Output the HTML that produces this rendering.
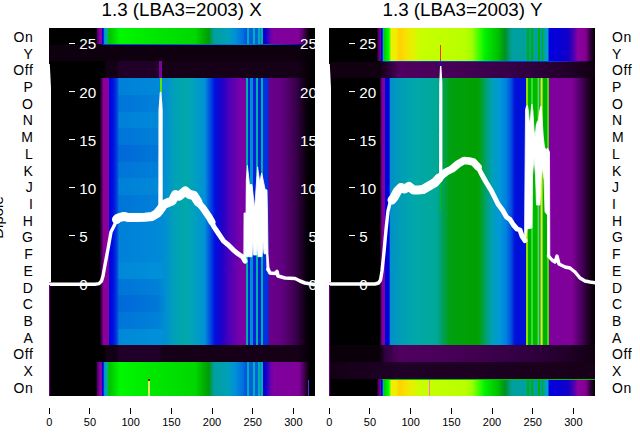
<!DOCTYPE html><html><head><meta charset="utf-8"><style>
html,body{margin:0;padding:0;background:#fff;width:640px;height:440px;overflow:hidden;font-family:"Liberation Sans", sans-serif;}
.p{position:absolute;top:28px;height:367.6px;width:266px;overflow:hidden;background:#000}
.t{position:absolute;white-space:nowrap;line-height:1}
</style></head><body>
<div class="t" style="left:101.5px;top:1.2px;font-size:18.8px;color:#000">1.3 (LBA3=2003) X</div>
<div class="t" style="left:382.5px;top:1.2px;font-size:18.8px;color:#000">1.3 (LBA3=2003) Y</div>
<div class="p" style="left:49px">
<div style="position:absolute;left:0;top:0.00px;width:266px;height:16.71px;background:linear-gradient(to right,#000 0.0px,#000 47.0px,#500068 48.5px,#8a00a0 51.0px,#8a00a0 52.8px,#0000e0 53.3px,#0000e0 54.3px,#0090d0 55.0px,#00b0a0 58.0px,#00c000 60.0px,#00f800 71.0px,#00e800 101.0px,#00d800 146.0px,#00b000 155.0px,#009a10 160.0px,#00a0a0 165.0px,#00a0b8 179.0px,#0090d8 186.0px,#0070e0 194.0px,#0050e0 197.5px,#00b0b0 198.0px,#00b0b0 199.5px,#0060e0 200.0px,#0060e0 203.5px,#00b0b0 204.0px,#00b0b0 205.5px,#0060e0 206.0px,#0060e0 208.5px,#00b0b0 209.0px,#00b0b0 210.5px,#0060e0 211.0px,#00b0b0 212.0px,#00b0b0 213.5px,#0000d0 214.0px,#2000c8 218.0px,#6000b0 221.0px,#8000a0 225.0px,#800098 250.0px,#500068 254.0px,#200020 258.0px,#000 261.0px,#000 266.0px)"></div>
<div style="position:absolute;left:0;top:16.71px;width:266px;height:16.71px;background:linear-gradient(to right,#0e000e 0.0px,#0e000e 246.0px,#060006 261.0px,#040004 266.0px)"></div>
<div style="position:absolute;left:0;top:33.42px;width:266px;height:16.71px;background:linear-gradient(to right,#000 0.0px,#000 55.0px,#120014 57.0px,#120014 68.0px,#200028 69.0px,#200028 110.0px,#160018 114.0px,#160018 249.0px,#040004 261.0px,#000 266.0px)"></div>
<div style="position:absolute;left:0;top:50.13px;width:266px;height:16.71px;background:linear-gradient(to right,#4a0060 0.0px,#000 1.0px,#000 50.5px,#400050 52.5px,#8a0098 54.5px,#8a0098 59.5px,#0000e0 60.5px,#0010e0 64.0px,#0040e0 68.0px,#0080d8 70.0px,#0088d8 109.0px,#0090d0 117.0px,#00a0b8 125.0px,#00a8a8 137.0px,#00a0c0 146.0px,#0090d8 156.0px,#0050e0 161.0px,#0010e0 166.0px,#2000c8 173.0px,#5000b8 181.0px,#7800a8 191.0px,#7a00a0 197.0px,#00b0a0 197.2px,#00b0a0 198.5px,#0020e0 198.8px,#0020e0 201.0px,#0090d0 201.5px,#0090d0 204.0px,#0020e0 204.3px,#0020e0 206.8px,#00b0a0 207.0px,#00b0a0 208.5px,#0020e0 208.8px,#0020e0 211.8px,#00b0a0 212.0px,#00b0a0 213.5px,#0030e0 213.8px,#0030e0 219.3px,#6a0088 219.8px,#640084 231.0px,#4c0064 241.0px,#300040 249.0px,#100014 256.0px,#000 260.0px,#000 266.0px)"></div>
<div style="position:absolute;left:0;top:66.84px;width:266px;height:16.71px;background:linear-gradient(to right,#4a0060 0.0px,#000 1.0px,#000 50.5px,#400050 52.5px,#8a0098 54.5px,#8a0098 59.5px,#0000e0 60.5px,#0010e0 64.0px,#0040e0 68.0px,#0074d8 70.0px,#0080d8 109.0px,#0090d0 117.0px,#00a0b8 125.0px,#00a8a8 137.0px,#00a0c0 146.0px,#0090d8 156.0px,#0050e0 161.0px,#0010e0 166.0px,#2000c8 173.0px,#5000b8 181.0px,#7800a8 191.0px,#7a00a0 197.0px,#00b0a0 197.2px,#00b0a0 198.5px,#0020e0 198.8px,#0020e0 201.0px,#0090d0 201.5px,#0090d0 204.0px,#0020e0 204.3px,#0020e0 206.8px,#00b0a0 207.0px,#00b0a0 208.5px,#0020e0 208.8px,#0020e0 211.8px,#00b0a0 212.0px,#00b0a0 213.5px,#0030e0 213.8px,#0030e0 219.3px,#6a0088 219.8px,#640084 231.0px,#4c0064 241.0px,#300040 249.0px,#100014 256.0px,#000 260.0px,#000 266.0px)"></div>
<div style="position:absolute;left:0;top:83.55px;width:266px;height:16.71px;background:linear-gradient(to right,#4a0060 0.0px,#000 1.0px,#000 50.5px,#400050 52.5px,#8a0098 54.5px,#8a0098 59.5px,#0000e0 60.5px,#0010e0 64.0px,#0040e0 68.0px,#0080d8 70.0px,#0088d8 109.0px,#0090d0 117.0px,#00a0b8 125.0px,#00a8a8 137.0px,#00a0c0 146.0px,#0090d8 156.0px,#0050e0 161.0px,#0010e0 166.0px,#2000c8 173.0px,#5000b8 181.0px,#7800a8 191.0px,#7a00a0 197.0px,#00b0a0 197.2px,#00b0a0 198.5px,#0020e0 198.8px,#0020e0 201.0px,#0090d0 201.5px,#0090d0 204.0px,#0020e0 204.3px,#0020e0 206.8px,#00b0a0 207.0px,#00b0a0 208.5px,#0020e0 208.8px,#0020e0 211.8px,#00b0a0 212.0px,#00b0a0 213.5px,#0030e0 213.8px,#0030e0 219.3px,#6a0088 219.8px,#640084 231.0px,#4c0064 241.0px,#300040 249.0px,#100014 256.0px,#000 260.0px,#000 266.0px)"></div>
<div style="position:absolute;left:0;top:100.26px;width:266px;height:16.71px;background:linear-gradient(to right,#4a0060 0.0px,#000 1.0px,#000 50.5px,#400050 52.5px,#8a0098 54.5px,#8a0098 59.5px,#0000e0 60.5px,#0010e0 64.0px,#0040e0 68.0px,#0074d8 70.0px,#0080d8 109.0px,#0090d0 117.0px,#00a0b8 125.0px,#00a8a8 137.0px,#00a0c0 146.0px,#0090d8 156.0px,#0050e0 161.0px,#0010e0 166.0px,#2000c8 173.0px,#5000b8 181.0px,#7800a8 191.0px,#7a00a0 197.0px,#00b0a0 197.2px,#00b0a0 198.5px,#0020e0 198.8px,#0020e0 201.0px,#0090d0 201.5px,#0090d0 204.0px,#0020e0 204.3px,#0020e0 206.8px,#00b0a0 207.0px,#00b0a0 208.5px,#0020e0 208.8px,#0020e0 211.8px,#00b0a0 212.0px,#00b0a0 213.5px,#0030e0 213.8px,#0030e0 219.3px,#6a0088 219.8px,#640084 231.0px,#4c0064 241.0px,#300040 249.0px,#100014 256.0px,#000 260.0px,#000 266.0px)"></div>
<div style="position:absolute;left:0;top:116.97px;width:266px;height:16.71px;background:linear-gradient(to right,#4a0060 0.0px,#000 1.0px,#000 50.5px,#400050 52.5px,#8a0098 54.5px,#8a0098 59.5px,#0000e0 60.5px,#0010e0 64.0px,#0040e0 68.0px,#0068d8 70.0px,#0078d8 109.0px,#0090d0 117.0px,#00a0b8 125.0px,#00a8a8 137.0px,#00a0c0 146.0px,#0090d8 156.0px,#0050e0 161.0px,#0010e0 166.0px,#2000c8 173.0px,#5000b8 181.0px,#7800a8 191.0px,#7a00a0 197.0px,#00b0a0 197.2px,#00b0a0 198.5px,#0020e0 198.8px,#0020e0 201.0px,#0090d0 201.5px,#0090d0 204.0px,#0020e0 204.3px,#0020e0 206.8px,#00b0a0 207.0px,#00b0a0 208.5px,#0020e0 208.8px,#0020e0 211.8px,#00b0a0 212.0px,#00b0a0 213.5px,#0030e0 213.8px,#0030e0 219.3px,#6a0088 219.8px,#640084 231.0px,#4c0064 241.0px,#300040 249.0px,#100014 256.0px,#000 260.0px,#000 266.0px)"></div>
<div style="position:absolute;left:0;top:133.68px;width:266px;height:16.71px;background:linear-gradient(to right,#4a0060 0.0px,#000 1.0px,#000 50.5px,#400050 52.5px,#8a0098 54.5px,#8a0098 59.5px,#0000e0 60.5px,#0010e0 64.0px,#0040e0 68.0px,#0074d8 70.0px,#0080d8 109.0px,#0090d0 117.0px,#00a0b8 125.0px,#00a8a8 137.0px,#00a0c0 146.0px,#0090d8 156.0px,#0050e0 161.0px,#0010e0 166.0px,#2000c8 173.0px,#5000b8 181.0px,#7800a8 191.0px,#7a00a0 197.0px,#00b0a0 197.2px,#00b0a0 198.5px,#0020e0 198.8px,#0020e0 201.0px,#0090d0 201.5px,#0090d0 204.0px,#0020e0 204.3px,#0020e0 206.8px,#00b0a0 207.0px,#00b0a0 208.5px,#0020e0 208.8px,#0020e0 211.8px,#00b0a0 212.0px,#00b0a0 213.5px,#0030e0 213.8px,#0030e0 219.3px,#6a0088 219.8px,#640084 231.0px,#4c0064 241.0px,#300040 249.0px,#100014 256.0px,#000 260.0px,#000 266.0px)"></div>
<div style="position:absolute;left:0;top:150.39px;width:266px;height:16.71px;background:linear-gradient(to right,#4a0060 0.0px,#000 1.0px,#000 50.5px,#400050 52.5px,#8a0098 54.5px,#8a0098 59.5px,#0000e0 60.5px,#0010e0 64.0px,#0040e0 68.0px,#0080d8 70.0px,#0088d8 109.0px,#0090d0 117.0px,#00a0b8 125.0px,#00a8a8 137.0px,#00a0c0 146.0px,#0090d8 156.0px,#0050e0 161.0px,#0010e0 166.0px,#2000c8 173.0px,#5000b8 181.0px,#7800a8 191.0px,#7a00a0 197.0px,#00b0a0 197.2px,#00b0a0 198.5px,#0020e0 198.8px,#0020e0 201.0px,#0090d0 201.5px,#0090d0 204.0px,#0020e0 204.3px,#0020e0 206.8px,#00b0a0 207.0px,#00b0a0 208.5px,#0020e0 208.8px,#0020e0 211.8px,#00b0a0 212.0px,#00b0a0 213.5px,#0030e0 213.8px,#0030e0 219.3px,#6a0088 219.8px,#640084 231.0px,#4c0064 241.0px,#300040 249.0px,#100014 256.0px,#000 260.0px,#000 266.0px)"></div>
<div style="position:absolute;left:0;top:167.10px;width:266px;height:16.71px;background:linear-gradient(to right,#4a0060 0.0px,#000 1.0px,#000 50.5px,#400050 52.5px,#8a0098 54.5px,#8a0098 59.5px,#0000e0 60.5px,#0010e0 64.0px,#0040e0 68.0px,#0074d8 70.0px,#0080d8 109.0px,#0090d0 117.0px,#00a0b8 125.0px,#00a8a8 137.0px,#00a0c0 146.0px,#0090d8 156.0px,#0050e0 161.0px,#0010e0 166.0px,#2000c8 173.0px,#5000b8 181.0px,#7800a8 191.0px,#7a00a0 197.0px,#00b0a0 197.2px,#00b0a0 198.5px,#0020e0 198.8px,#0020e0 201.0px,#0090d0 201.5px,#0090d0 204.0px,#0020e0 204.3px,#0020e0 206.8px,#00b0a0 207.0px,#00b0a0 208.5px,#0020e0 208.8px,#0020e0 211.8px,#00b0a0 212.0px,#00b0a0 213.5px,#0030e0 213.8px,#0030e0 219.3px,#6a0088 219.8px,#640084 231.0px,#4c0064 241.0px,#300040 249.0px,#100014 256.0px,#000 260.0px,#000 266.0px)"></div>
<div style="position:absolute;left:0;top:183.81px;width:266px;height:16.71px;background:linear-gradient(to right,#4a0060 0.0px,#000 1.0px,#000 50.5px,#400050 52.5px,#8a0098 54.5px,#8a0098 59.5px,#0000e0 60.5px,#0010e0 64.0px,#0040e0 68.0px,#0080d8 70.0px,#0088d8 109.0px,#0090d0 117.0px,#00a0b8 125.0px,#00a8a8 137.0px,#00a0c0 146.0px,#0090d8 156.0px,#0050e0 161.0px,#0010e0 166.0px,#2000c8 173.0px,#5000b8 181.0px,#7800a8 191.0px,#7a00a0 197.0px,#00b0a0 197.2px,#00b0a0 198.5px,#0020e0 198.8px,#0020e0 201.0px,#0090d0 201.5px,#0090d0 204.0px,#0020e0 204.3px,#0020e0 206.8px,#00b0a0 207.0px,#00b0a0 208.5px,#0020e0 208.8px,#0020e0 211.8px,#00b0a0 212.0px,#00b0a0 213.5px,#0030e0 213.8px,#0030e0 219.3px,#6a0088 219.8px,#640084 231.0px,#4c0064 241.0px,#300040 249.0px,#100014 256.0px,#000 260.0px,#000 266.0px)"></div>
<div style="position:absolute;left:0;top:200.52px;width:266px;height:16.71px;background:linear-gradient(to right,#4a0060 0.0px,#000 1.0px,#000 50.5px,#400050 52.5px,#8a0098 54.5px,#8a0098 59.5px,#0000e0 60.5px,#0010e0 64.0px,#0040e0 68.0px,#0080d8 70.0px,#0088d8 109.0px,#0090d0 117.0px,#00a0b8 125.0px,#00a8a8 137.0px,#00a0c0 146.0px,#0090d8 156.0px,#0050e0 161.0px,#0010e0 166.0px,#2000c8 173.0px,#5000b8 181.0px,#7800a8 191.0px,#7a00a0 197.0px,#00b0a0 197.2px,#00b0a0 198.5px,#0020e0 198.8px,#0020e0 201.0px,#0090d0 201.5px,#0090d0 204.0px,#0020e0 204.3px,#0020e0 206.8px,#00b0a0 207.0px,#00b0a0 208.5px,#0020e0 208.8px,#0020e0 211.8px,#00b0a0 212.0px,#00b0a0 213.5px,#0030e0 213.8px,#0030e0 219.3px,#6a0088 219.8px,#640084 231.0px,#4c0064 241.0px,#300040 249.0px,#100014 256.0px,#000 260.0px,#000 266.0px)"></div>
<div style="position:absolute;left:0;top:217.23px;width:266px;height:16.71px;background:linear-gradient(to right,#4a0060 0.0px,#000 1.0px,#000 50.5px,#400050 52.5px,#8a0098 54.5px,#8a0098 59.5px,#0000e0 60.5px,#0010e0 64.0px,#0040e0 68.0px,#0080d8 70.0px,#0088d8 109.0px,#0090d0 117.0px,#00a0b8 125.0px,#00a8a8 137.0px,#00a0c0 146.0px,#0090d8 156.0px,#0050e0 161.0px,#0010e0 166.0px,#2000c8 173.0px,#5000b8 181.0px,#7800a8 191.0px,#7a00a0 197.0px,#00b0a0 197.2px,#00b0a0 198.5px,#0020e0 198.8px,#0020e0 201.0px,#0090d0 201.5px,#0090d0 204.0px,#0020e0 204.3px,#0020e0 206.8px,#00b0a0 207.0px,#00b0a0 208.5px,#0020e0 208.8px,#0020e0 211.8px,#00b0a0 212.0px,#00b0a0 213.5px,#0030e0 213.8px,#0030e0 219.3px,#6a0088 219.8px,#640084 231.0px,#4c0064 241.0px,#300040 249.0px,#100014 256.0px,#000 260.0px,#000 266.0px)"></div>
<div style="position:absolute;left:0;top:233.94px;width:266px;height:16.71px;background:linear-gradient(to right,#4a0060 0.0px,#000 1.0px,#000 50.5px,#400050 52.5px,#8a0098 54.5px,#8a0098 59.5px,#0000e0 60.5px,#0010e0 64.0px,#0040e0 68.0px,#0088d8 70.0px,#0090d8 109.0px,#0090d0 117.0px,#00a0b8 125.0px,#00a8a8 137.0px,#00a0c0 146.0px,#0090d8 156.0px,#0050e0 161.0px,#0010e0 166.0px,#2000c8 173.0px,#5000b8 181.0px,#7800a8 191.0px,#7a00a0 197.0px,#00b0a0 197.2px,#00b0a0 198.5px,#0020e0 198.8px,#0020e0 201.0px,#0090d0 201.5px,#0090d0 204.0px,#0020e0 204.3px,#0020e0 206.8px,#00b0a0 207.0px,#00b0a0 208.5px,#0020e0 208.8px,#0020e0 211.8px,#00b0a0 212.0px,#00b0a0 213.5px,#0030e0 213.8px,#0030e0 219.3px,#6a0088 219.8px,#640084 231.0px,#4c0064 241.0px,#300040 249.0px,#100014 256.0px,#000 260.0px,#000 266.0px)"></div>
<div style="position:absolute;left:0;top:250.65px;width:266px;height:16.71px;background:linear-gradient(to right,#4a0060 0.0px,#000 1.0px,#000 50.5px,#400050 52.5px,#8a0098 54.5px,#8a0098 59.5px,#0000e0 60.5px,#0010e0 64.0px,#0040e0 68.0px,#0074d8 70.0px,#0080d8 109.0px,#0090d0 117.0px,#00a0b8 125.0px,#00a8a8 137.0px,#00a0c0 146.0px,#0090d8 156.0px,#0050e0 161.0px,#0010e0 166.0px,#2000c8 173.0px,#5000b8 181.0px,#7800a8 191.0px,#7a00a0 197.0px,#00b0a0 197.2px,#00b0a0 198.5px,#0020e0 198.8px,#0020e0 201.0px,#0090d0 201.5px,#0090d0 204.0px,#0020e0 204.3px,#0020e0 206.8px,#00b0a0 207.0px,#00b0a0 208.5px,#0020e0 208.8px,#0020e0 211.8px,#00b0a0 212.0px,#00b0a0 213.5px,#0030e0 213.8px,#0030e0 219.3px,#6a0088 219.8px,#640084 231.0px,#4c0064 241.0px,#300040 249.0px,#100014 256.0px,#000 260.0px,#000 266.0px)"></div>
<div style="position:absolute;left:0;top:267.36px;width:266px;height:16.71px;background:linear-gradient(to right,#4a0060 0.0px,#000 1.0px,#000 50.5px,#400050 52.5px,#8a0098 54.5px,#8a0098 59.5px,#0000e0 60.5px,#0010e0 64.0px,#0040e0 68.0px,#0068d8 70.0px,#0078d8 109.0px,#0090d0 117.0px,#00a0b8 125.0px,#00a8a8 137.0px,#00a0c0 146.0px,#0090d8 156.0px,#0050e0 161.0px,#0010e0 166.0px,#2000c8 173.0px,#5000b8 181.0px,#7800a8 191.0px,#7a00a0 197.0px,#00b0a0 197.2px,#00b0a0 198.5px,#0020e0 198.8px,#0020e0 201.0px,#0090d0 201.5px,#0090d0 204.0px,#0020e0 204.3px,#0020e0 206.8px,#00b0a0 207.0px,#00b0a0 208.5px,#0020e0 208.8px,#0020e0 211.8px,#00b0a0 212.0px,#00b0a0 213.5px,#0030e0 213.8px,#0030e0 219.3px,#6a0088 219.8px,#640084 231.0px,#4c0064 241.0px,#300040 249.0px,#100014 256.0px,#000 260.0px,#000 266.0px)"></div>
<div style="position:absolute;left:0;top:284.07px;width:266px;height:16.71px;background:linear-gradient(to right,#4a0060 0.0px,#000 1.0px,#000 50.5px,#400050 52.5px,#8a0098 54.5px,#8a0098 59.5px,#0000e0 60.5px,#0010e0 64.0px,#0040e0 68.0px,#0074d8 70.0px,#0080d8 109.0px,#0090d0 117.0px,#00a0b8 125.0px,#00a8a8 137.0px,#00a0c0 146.0px,#0090d8 156.0px,#0050e0 161.0px,#0010e0 166.0px,#2000c8 173.0px,#5000b8 181.0px,#7800a8 191.0px,#7a00a0 197.0px,#00b0a0 197.2px,#00b0a0 198.5px,#0020e0 198.8px,#0020e0 201.0px,#0090d0 201.5px,#0090d0 204.0px,#0020e0 204.3px,#0020e0 206.8px,#00b0a0 207.0px,#00b0a0 208.5px,#0020e0 208.8px,#0020e0 211.8px,#00b0a0 212.0px,#00b0a0 213.5px,#0030e0 213.8px,#0030e0 219.3px,#6a0088 219.8px,#640084 231.0px,#4c0064 241.0px,#300040 249.0px,#100014 256.0px,#000 260.0px,#000 266.0px)"></div>
<div style="position:absolute;left:0;top:300.78px;width:266px;height:16.71px;background:linear-gradient(to right,#4a0060 0.0px,#000 1.0px,#000 50.5px,#400050 52.5px,#8a0098 54.5px,#8a0098 59.5px,#0000e0 60.5px,#0010e0 64.0px,#0040e0 68.0px,#0088d8 70.0px,#0090d8 109.0px,#0090d0 117.0px,#00a0b8 125.0px,#00a8a8 137.0px,#00a0c0 146.0px,#0090d8 156.0px,#0050e0 161.0px,#0010e0 166.0px,#2000c8 173.0px,#5000b8 181.0px,#7800a8 191.0px,#7a00a0 197.0px,#00b0a0 197.2px,#00b0a0 198.5px,#0020e0 198.8px,#0020e0 201.0px,#0090d0 201.5px,#0090d0 204.0px,#0020e0 204.3px,#0020e0 206.8px,#00b0a0 207.0px,#00b0a0 208.5px,#0020e0 208.8px,#0020e0 211.8px,#00b0a0 212.0px,#00b0a0 213.5px,#0030e0 213.8px,#0030e0 219.3px,#6a0088 219.8px,#640084 231.0px,#4c0064 241.0px,#300040 249.0px,#100014 256.0px,#000 260.0px,#000 266.0px)"></div>
<div style="position:absolute;left:0;top:317.49px;width:266px;height:16.71px;background:linear-gradient(to right,#000 0.0px,#000 55.0px,#120014 57.0px,#120014 68.0px,#200028 69.0px,#200028 110.0px,#160018 114.0px,#160018 249.0px,#040004 261.0px,#000 266.0px)"></div>
<div style="position:absolute;left:0;top:334.20px;width:266px;height:33.42px;background:linear-gradient(to right,#000 0.0px,#000 47.0px,#500068 48.5px,#8a00a0 51.0px,#8a00a0 52.8px,#0000e0 53.3px,#0000e0 54.3px,#0090d0 55.0px,#00b0a0 58.0px,#00c000 60.0px,#00f800 71.0px,#00e800 101.0px,#00d800 146.0px,#00b000 155.0px,#009a10 160.0px,#00a0a0 165.0px,#00a0b8 179.0px,#0090d8 186.0px,#0070e0 194.0px,#0050e0 197.5px,#00b0b0 198.0px,#00b0b0 199.5px,#0060e0 200.0px,#0060e0 203.5px,#00b0b0 204.0px,#00b0b0 205.5px,#0060e0 206.0px,#0060e0 208.5px,#00b0b0 209.0px,#00b0b0 210.5px,#0060e0 211.0px,#00b0b0 212.0px,#00b0b0 213.5px,#0000d0 214.0px,#2000c8 218.0px,#6000b0 221.0px,#8000a0 225.0px,#800098 250.0px,#500068 254.0px,#200020 258.0px,#000 261.0px,#000 266.0px)"></div>
<div style="position:absolute;left:110.30px;top:33.40px;width:2.70px;height:16.70px;background:#8000a0"></div>
<div style="position:absolute;left:110.50px;top:50.10px;width:2.50px;height:14.00px;background:linear-gradient(to right,#00d000,#c0ff00,#00d000)"></div>
<div style="position:absolute;left:98.70px;top:351.50px;width:1.40px;height:16.00px;background:#d8d8d8"></div>
<div style="position:absolute;left:100.10px;top:351.50px;width:1.00px;height:16.00px;background:#e0ff00"></div>
<div style="position:absolute;left:98.70px;top:350.80px;width:2.20px;height:1.80px;background:#c00000"></div>
<div style="position:absolute;left:0.00px;top:16.20px;width:266.00px;height:0.90px;background:linear-gradient(to right,#000 0,#000 52px,#0040e0 55px,#0080e0 200px,#2000c0 250px,#000 260px)"></div>
<div style="position:absolute;left:258.50px;top:351.50px;width:1.20px;height:16.00px;background:#3040e0"></div>
<div class="t" style="right:-2px;top:249.00px;font-size:15.2px;color:#fff;text-align:right">0</div>
<div class="t" style="right:-2px;top:200.88px;font-size:15.2px;color:#fff;text-align:right">5</div>
<div class="t" style="right:-2px;top:152.76px;font-size:15.2px;color:#fff;text-align:right">10</div>
<div class="t" style="right:-2px;top:104.64px;font-size:15.2px;color:#fff;text-align:right">15</div>
<div class="t" style="right:-2px;top:56.52px;font-size:15.2px;color:#fff;text-align:right">20</div>
<div class="t" style="right:-2px;top:8.40px;font-size:15.2px;color:#fff;text-align:right">25</div>
</div>
<div class="p" style="left:329px">
<div style="position:absolute;left:0;top:0.00px;width:266px;height:33.42px;background:linear-gradient(to right,#000 0.0px,#000 47.5px,#500068 49.5px,#7000a0 51.5px,#0000e0 52.2px,#0000e0 53.3px,#00b0c0 54.0px,#00d000 55.5px,#00ff00 60.0px,#e8f000 62.0px,#f0f000 66.0px,#ffd000 71.0px,#f8e000 76.0px,#e8f000 83.0px,#c8ff00 91.0px,#b8ff00 136.0px,#a0ff00 143.0px,#30ff00 151.0px,#00f000 156.0px,#00c000 169.0px,#009020 176.0px,#00a0a0 183.0px,#00a0a0 198.0px,#00b000 198.5px,#00b000 200.0px,#00a0a0 200.5px,#00a0a0 202.0px,#00b000 202.5px,#00b000 204.0px,#00a0a0 204.5px,#00a0a0 209.0px,#00b000 209.5px,#00b000 211.0px,#00a0a0 211.5px,#00a0a0 212.5px,#00b000 213.0px,#00b000 214.0px,#00a0a0 214.5px,#00a0d0 219.0px,#0000e0 220.0px,#1000c8 239.0px,#5000b0 245.0px,#9000a0 249.0px,#800090 257.0px,#380040 261.0px,#000 266.0px)"></div>
<div style="position:absolute;left:0;top:33.42px;width:266px;height:16.71px;background:linear-gradient(to right,#100010 0.0px,#100010 51.0px,#400050 66.0px,#500060 71.0px,#450055 131.0px,#300040 201.0px,#200028 241.0px,#100010 266.0px)"></div>
<div style="position:absolute;left:0;top:50.13px;width:266px;height:267.36px;background:linear-gradient(to right,#4a0060 0.0px,#000 1.0px,#000 50.5px,#600078 52.5px,#8000a0 53.5px,#8000a0 55.5px,#0000d8 56.5px,#0000e0 60.0px,#0090c8 61.5px,#009cb8 71.0px,#00a8a8 86.0px,#00a898 108.0px,#00a060 113.0px,#00a010 121.0px,#00a000 149.0px,#00a070 157.0px,#00a0b8 163.0px,#0098d8 171.0px,#0080e0 177.0px,#0050e0 182.0px,#0010d8 186.0px,#0010d8 196.5px,#90e000 197.0px,#90e000 198.5px,#00b000 199.0px,#00b000 202.0px,#30e030 202.5px,#30e030 204.0px,#00b800 204.5px,#00b800 208.3px,#70e000 208.8px,#70e000 210.0px,#00a0b0 210.5px,#00a0b0 211.3px,#e0f000 211.8px,#e0f000 213.3px,#00b000 213.8px,#00b000 218.0px,#40e000 218.5px,#40e000 219.5px,#8000a0 220.0px,#800098 243.0px,#500068 251.0px,#180018 261.0px,#000 266.0px)"></div>
<div style="position:absolute;left:0;top:317.49px;width:266px;height:16.71px;background:linear-gradient(to right,#0a000a 0.0px,#0a000a 51.0px,#300040 56.0px,#500060 71.0px,#450055 131.0px,#300040 201.0px,#200028 241.0px,#100010 266.0px)"></div>
<div style="position:absolute;left:0;top:334.20px;width:266px;height:16.71px;background:linear-gradient(to right,#120014 0.0px,#200028 71.0px,#180018 266.0px)"></div>
<div style="position:absolute;left:0;top:350.91px;width:266px;height:16.71px;background:linear-gradient(to right,#000 0.0px,#000 47.5px,#500068 49.5px,#7000a0 51.5px,#0000e0 52.2px,#0000e0 53.3px,#00b0c0 54.0px,#00d000 55.5px,#00ff00 60.0px,#e8f000 62.0px,#f0f000 66.0px,#ffd000 71.0px,#f8e000 76.0px,#e8f000 83.0px,#c8ff00 91.0px,#b8ff00 136.0px,#a0ff00 143.0px,#30ff00 151.0px,#00f000 156.0px,#00c000 169.0px,#009020 176.0px,#00a0a0 183.0px,#00a0a0 198.0px,#00b000 198.5px,#00b000 200.0px,#00a0a0 200.5px,#00a0a0 202.0px,#00b000 202.5px,#00b000 204.0px,#00a0a0 204.5px,#00a0a0 209.0px,#00b000 209.5px,#00b000 211.0px,#00a0a0 211.5px,#00a0a0 212.5px,#00b000 213.0px,#00b000 214.0px,#00a0a0 214.5px,#00a0d0 219.0px,#0000e0 220.0px,#1000c8 239.0px,#5000b0 245.0px,#9000a0 249.0px,#800090 257.0px,#380040 261.0px,#000 266.0px)"></div>
<div style="position:absolute;left:110.50px;top:17.00px;width:1.80px;height:16.40px;background:#ff3000"></div>
<div style="position:absolute;left:110.50px;top:33.40px;width:1.80px;height:5.00px;background:#0000ff"></div>
<div style="position:absolute;left:99.00px;top:351.50px;width:1.10px;height:16.00px;background:#d0d0d0"></div>
<div style="position:absolute;left:100.10px;top:351.50px;width:0.90px;height:16.00px;background:#ffa000"></div>
<div style="position:absolute;left:0.00px;top:33.10px;width:266.00px;height:0.90px;background:linear-gradient(to right,#000 0,#000 52px,#0040e0 55px,#0040e0 220px,#400080 250px,#000 266px)"></div>
<div style="position:absolute;left:53.00px;top:350.60px;width:213.00px;height:1.00px;background:#00c000"></div>
<div style="position:absolute;left:111.00px;top:153.00px;width:1.00px;height:31.00px;background:#00c000"></div>
</div>
<div class="t" style="right:606.6px;top:29.9px;font-size:14px;letter-spacing:0.6px;text-align:right">On</div>
<div class="t" style="left:612px;top:29.9px;font-size:14px;letter-spacing:0.6px">On</div>
<div class="t" style="right:606.6px;top:46.6px;font-size:14px;letter-spacing:0.6px;text-align:right">Y</div>
<div class="t" style="left:612px;top:46.6px;font-size:14px;letter-spacing:0.6px">Y</div>
<div class="t" style="right:606.6px;top:63.3px;font-size:14px;letter-spacing:0.6px;text-align:right">Off</div>
<div class="t" style="left:612px;top:63.3px;font-size:14px;letter-spacing:0.6px">Off</div>
<div class="t" style="right:606.6px;top:80.0px;font-size:14px;letter-spacing:0.6px;text-align:right">P</div>
<div class="t" style="left:612px;top:80.0px;font-size:14px;letter-spacing:0.6px">P</div>
<div class="t" style="right:606.6px;top:96.7px;font-size:14px;letter-spacing:0.6px;text-align:right">O</div>
<div class="t" style="left:612px;top:96.7px;font-size:14px;letter-spacing:0.6px">O</div>
<div class="t" style="right:606.6px;top:113.4px;font-size:14px;letter-spacing:0.6px;text-align:right">N</div>
<div class="t" style="left:612px;top:113.4px;font-size:14px;letter-spacing:0.6px">N</div>
<div class="t" style="right:606.6px;top:130.1px;font-size:14px;letter-spacing:0.6px;text-align:right">M</div>
<div class="t" style="left:612px;top:130.1px;font-size:14px;letter-spacing:0.6px">M</div>
<div class="t" style="right:606.6px;top:146.8px;font-size:14px;letter-spacing:0.6px;text-align:right">L</div>
<div class="t" style="left:612px;top:146.8px;font-size:14px;letter-spacing:0.6px">L</div>
<div class="t" style="right:606.6px;top:163.5px;font-size:14px;letter-spacing:0.6px;text-align:right">K</div>
<div class="t" style="left:612px;top:163.5px;font-size:14px;letter-spacing:0.6px">K</div>
<div class="t" style="right:606.6px;top:180.2px;font-size:14px;letter-spacing:0.6px;text-align:right">J</div>
<div class="t" style="left:612px;top:180.2px;font-size:14px;letter-spacing:0.6px">J</div>
<div class="t" style="right:606.6px;top:197.0px;font-size:14px;letter-spacing:0.6px;text-align:right">I</div>
<div class="t" style="left:612px;top:197.0px;font-size:14px;letter-spacing:0.6px">I</div>
<div class="t" style="right:606.6px;top:213.7px;font-size:14px;letter-spacing:0.6px;text-align:right">H</div>
<div class="t" style="left:612px;top:213.7px;font-size:14px;letter-spacing:0.6px">H</div>
<div class="t" style="right:606.6px;top:230.4px;font-size:14px;letter-spacing:0.6px;text-align:right">G</div>
<div class="t" style="left:612px;top:230.4px;font-size:14px;letter-spacing:0.6px">G</div>
<div class="t" style="right:606.6px;top:247.1px;font-size:14px;letter-spacing:0.6px;text-align:right">F</div>
<div class="t" style="left:612px;top:247.1px;font-size:14px;letter-spacing:0.6px">F</div>
<div class="t" style="right:606.6px;top:263.8px;font-size:14px;letter-spacing:0.6px;text-align:right">E</div>
<div class="t" style="left:612px;top:263.8px;font-size:14px;letter-spacing:0.6px">E</div>
<div class="t" style="right:606.6px;top:280.5px;font-size:14px;letter-spacing:0.6px;text-align:right">D</div>
<div class="t" style="left:612px;top:280.5px;font-size:14px;letter-spacing:0.6px">D</div>
<div class="t" style="right:606.6px;top:297.2px;font-size:14px;letter-spacing:0.6px;text-align:right">C</div>
<div class="t" style="left:612px;top:297.2px;font-size:14px;letter-spacing:0.6px">C</div>
<div class="t" style="right:606.6px;top:313.9px;font-size:14px;letter-spacing:0.6px;text-align:right">B</div>
<div class="t" style="left:612px;top:313.9px;font-size:14px;letter-spacing:0.6px">B</div>
<div class="t" style="right:606.6px;top:330.6px;font-size:14px;letter-spacing:0.6px;text-align:right">A</div>
<div class="t" style="left:612px;top:330.6px;font-size:14px;letter-spacing:0.6px">A</div>
<div class="t" style="right:606.6px;top:347.3px;font-size:14px;letter-spacing:0.6px;text-align:right">Off</div>
<div class="t" style="left:612px;top:347.3px;font-size:14px;letter-spacing:0.6px">Off</div>
<div class="t" style="right:606.6px;top:364.1px;font-size:14px;letter-spacing:0.6px;text-align:right">X</div>
<div class="t" style="left:612px;top:364.1px;font-size:14px;letter-spacing:0.6px">X</div>
<div class="t" style="right:606.6px;top:380.8px;font-size:14px;letter-spacing:0.6px;text-align:right">On</div>
<div class="t" style="left:612px;top:380.8px;font-size:14px;letter-spacing:0.6px">On</div>
<div style="position:absolute;left:48.80px;top:408px;width:1px;height:5.5px;background:#000"></div>
<div class="t" style="left:19.30px;width:60px;text-align:center;top:416.5px;font-size:11px">0</div>
<div style="position:absolute;left:89.48px;top:408px;width:1px;height:5.5px;background:#000"></div>
<div class="t" style="left:59.98px;width:60px;text-align:center;top:416.5px;font-size:11px">50</div>
<div style="position:absolute;left:130.17px;top:408px;width:1px;height:5.5px;background:#000"></div>
<div class="t" style="left:100.67px;width:60px;text-align:center;top:416.5px;font-size:11px">100</div>
<div style="position:absolute;left:170.85px;top:408px;width:1px;height:5.5px;background:#000"></div>
<div class="t" style="left:141.35px;width:60px;text-align:center;top:416.5px;font-size:11px">150</div>
<div style="position:absolute;left:211.54px;top:408px;width:1px;height:5.5px;background:#000"></div>
<div class="t" style="left:182.04px;width:60px;text-align:center;top:416.5px;font-size:11px">200</div>
<div style="position:absolute;left:252.22px;top:408px;width:1px;height:5.5px;background:#000"></div>
<div class="t" style="left:222.72px;width:60px;text-align:center;top:416.5px;font-size:11px">250</div>
<div style="position:absolute;left:292.91px;top:408px;width:1px;height:5.5px;background:#000"></div>
<div class="t" style="left:263.41px;width:60px;text-align:center;top:416.5px;font-size:11px">300</div>
<div style="position:absolute;left:328.80px;top:408px;width:1px;height:5.5px;background:#000"></div>
<div class="t" style="left:299.30px;width:60px;text-align:center;top:416.5px;font-size:11px">0</div>
<div style="position:absolute;left:369.49px;top:408px;width:1px;height:5.5px;background:#000"></div>
<div class="t" style="left:339.99px;width:60px;text-align:center;top:416.5px;font-size:11px">50</div>
<div style="position:absolute;left:410.17px;top:408px;width:1px;height:5.5px;background:#000"></div>
<div class="t" style="left:380.67px;width:60px;text-align:center;top:416.5px;font-size:11px">100</div>
<div style="position:absolute;left:450.86px;top:408px;width:1px;height:5.5px;background:#000"></div>
<div class="t" style="left:421.36px;width:60px;text-align:center;top:416.5px;font-size:11px">150</div>
<div style="position:absolute;left:491.54px;top:408px;width:1px;height:5.5px;background:#000"></div>
<div class="t" style="left:462.04px;width:60px;text-align:center;top:416.5px;font-size:11px">200</div>
<div style="position:absolute;left:532.22px;top:408px;width:1px;height:5.5px;background:#000"></div>
<div class="t" style="left:502.72px;width:60px;text-align:center;top:416.5px;font-size:11px">250</div>
<div style="position:absolute;left:572.91px;top:408px;width:1px;height:5.5px;background:#000"></div>
<div class="t" style="left:543.41px;width:60px;text-align:center;top:416.5px;font-size:11px">300</div>
<div style="position:absolute;left:69px;top:283.40px;width:5.5px;height:1.2px;background:#fff"></div>
<div class="t" style="left:79.3px;top:277.00px;font-size:15.2px;color:#fff">0</div>
<div style="position:absolute;left:69px;top:235.28px;width:5.5px;height:1.2px;background:#fff"></div>
<div class="t" style="left:79.3px;top:228.88px;font-size:15.2px;color:#fff">5</div>
<div style="position:absolute;left:69px;top:187.16px;width:5.5px;height:1.2px;background:#fff"></div>
<div class="t" style="left:79.3px;top:180.76px;font-size:15.2px;color:#fff">10</div>
<div style="position:absolute;left:69px;top:139.04px;width:5.5px;height:1.2px;background:#fff"></div>
<div class="t" style="left:79.3px;top:132.64px;font-size:15.2px;color:#fff">15</div>
<div style="position:absolute;left:69px;top:90.92px;width:5.5px;height:1.2px;background:#fff"></div>
<div class="t" style="left:79.3px;top:84.52px;font-size:15.2px;color:#fff">20</div>
<div style="position:absolute;left:69px;top:42.80px;width:5.5px;height:1.2px;background:#fff"></div>
<div class="t" style="left:79.3px;top:36.40px;font-size:15.2px;color:#fff">25</div>
<div style="position:absolute;left:349px;top:283.40px;width:5.5px;height:1.2px;background:#fff"></div>
<div class="t" style="left:359.3px;top:277.00px;font-size:15.2px;color:#fff">0</div>
<div style="position:absolute;left:349px;top:235.28px;width:5.5px;height:1.2px;background:#fff"></div>
<div class="t" style="left:359.3px;top:228.88px;font-size:15.2px;color:#fff">5</div>
<div style="position:absolute;left:349px;top:187.16px;width:5.5px;height:1.2px;background:#fff"></div>
<div class="t" style="left:359.3px;top:180.76px;font-size:15.2px;color:#fff">10</div>
<div style="position:absolute;left:349px;top:139.04px;width:5.5px;height:1.2px;background:#fff"></div>
<div class="t" style="left:359.3px;top:132.64px;font-size:15.2px;color:#fff">15</div>
<div style="position:absolute;left:349px;top:90.92px;width:5.5px;height:1.2px;background:#fff"></div>
<div class="t" style="left:359.3px;top:84.52px;font-size:15.2px;color:#fff">20</div>
<div style="position:absolute;left:349px;top:42.80px;width:5.5px;height:1.2px;background:#fff"></div>
<div class="t" style="left:359.3px;top:36.40px;font-size:15.2px;color:#fff">25</div>
<svg width="640" height="440" style="position:absolute;left:0;top:0">
<defs><clipPath id="cl"><rect x="49" y="28" width="266" height="367.6"/></clipPath><clipPath id="cr"><rect x="329" y="28" width="266" height="367.6"/></clipPath></defs>
<g clip-path="url(#cl)" fill="none" stroke="#fff" stroke-linejoin="round" stroke-linecap="round">
<polyline points="49.5,284.2 95,284.2 99,283.6 101.5,281 103,276 104.7,266.5 108,249 111,232 114.5,225 119,216" stroke-width="3.4"/><polyline points="116.5,219.5 118,218 124,216.4 128,217.5 135,217.5 145,217.2 152,216.5 157,213.5 160,210 164,204.3 169.4,202 172.2,201 175.5,194.6 179,196.3 185.3,191 189.5,194.5 194,195.5 198,202" stroke-width="9"/><polyline points="194,195.5 199.4,204 203,208 209.3,217.3 212,222" stroke-width="7"/><polyline points="200,204 203,208 209.3,217.3 214,226.8 218.8,234 223.6,241.1 228.4,245 233.2,249.8 238,253.8 242.7,257 245,261" stroke-width="5"/><polyline points="268,269 270,273 275,273.5 277,271.5 278,276 285,278 295,278.5 300,281 305,283 320,285.5" stroke-width="3.6"/>
<polygon points="243.8,262 244,213 246,213 246.3,180 247.4,165.5 248.5,175 249.5,184.5 252,184.5 254.6,208.4 257.6,166.8 259.7,181.8 261.7,173 265.1,189.3 267,190 267.5,215 268,254 269.3,271 267,271 266.5,254 264,253.7 263,242 262,256.7 258,256.7 257.2,243.4 256.5,255 253.5,255 252.7,239 252,256.7 246,256.7 245.5,263" fill="#fff" stroke-width="0.8"/><polygon points="159.8,92 161.5,92 162.7,110 162.7,209 158.3,209 158.5,110" fill="#fff" stroke="none"/>
</g>
<g clip-path="url(#cr)" fill="none" stroke="#fff" stroke-linejoin="round" stroke-linecap="round">
<polyline points="329.5,284 375,284 378.5,283 380.5,280 382,271 384,252 386,230 388,211 390,203 392,199.5 394,197.5" stroke-width="3.4"/><polyline points="392,200 394,197.5 397.5,191 401,187.5 404.7,189 409,186.4 413.5,190 418,190 423,189.5 429,186 435,182.5 439,178" stroke-width="9"/><polyline points="436,181.5 441,176 446,172 452,169 458,164 464,160.5 469,161 473.4,162 478,167" stroke-width="7.5"/><polyline points="476,164 478,167 481.5,174 486,182 491.5,191 498,204 502.5,210 506.5,217 510,219.5 513.5,225 517,229 520,230 522,236 525,240.5" stroke-width="5"/><polyline points="548.5,256 552,260 555,262 557,256 559,264 565,267 570,268 575,272 580,278 585,281 590,282 600,283.5" stroke-width="3.4"/>
<polygon points="524.5,241 525.5,110 526.5,106 527.5,105.5 528.5,112 529.5,124 530.5,118 531.5,106 532,104 533,112 534,130 535,137 536.3,125 537.5,121 538.5,120.5 539.5,112 540.5,107 541.3,106 542.3,122 543.3,137 544.5,147 546,150 547.5,148 549.5,152 549.8,258 547.5,257 547.5,215 545,212 544,180 542.5,168 541,178 540,205 536.5,205 535.5,175 534,158 532.5,175 532,228 527,229 525.5,241" fill="#fff" stroke-width="0.8"/><polygon points="440,66 441.4,66 442.4,84 442.4,180 439,180 439.2,84" fill="#fff" stroke="none"/>
</g>
<polygon points="48,64 48,282.3 51,282.3 51,88 49.8,64" fill="#fff"/>
<polygon points="328,64 328,282.3 331,282.3 331,88 329.8,64" fill="#fff"/>
<rect x="49" y="285" width="1.1" height="110.6" fill="#6a0088"/><rect x="329" y="285" width="1.1" height="110.6" fill="#6a0088"/>
</svg>
<div class="t" style="left:-24.5px;top:210px;font-size:15px;transform:rotate(-90deg);transform-origin:center">Dipole</div>
</body></html>
